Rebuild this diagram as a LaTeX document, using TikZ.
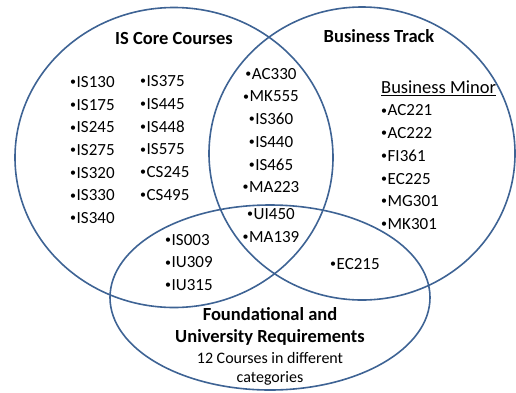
\documentclass[tikz,border=0pt]{standalone}
\usepackage{fontspec}
\setmainfont{Carlito}
\definecolor{vennline}{RGB}{62,99,148}
\newcommand{\bul}{{\fontsize{12}{12}\selectfont\raisebox{0.3ex}{•}}\kern0.5pt}
\tikzset{
  venn/.style={draw=vennline, line width=1.6pt},
  lst/.style={inner sep=0pt, font=\fontsize{17}{22.7}\selectfont},
  head/.style={inner sep=0pt, font=\fontsize{18.5}{22}\selectfont\bfseries}
}
\begin{document}
\begin{tikzpicture}[x=1pt,y=-1pt]
\useasboundingbox (0,0) rectangle (516,392);
% ellipses
\draw[venn] (174,157.5) ellipse [x radius=159, y radius=150];
\draw[venn] (362,153.5) ellipse [x radius=153, y radius=146.5];
\draw[venn] (270,297.5) ellipse [x radius=160, y radius=92.5];
% headings
\node[head] (core) at (174,38) {IS Core Courses};
\node[head] (bus) at (379,36) {Business Track};
% lists
\node[lst, anchor=west, align=left] (c1) at (70,150) {\bul IS130\\\bul IS175\\\bul IS245\\\bul IS275\\\bul IS320\\\bul IS330\\\bul IS340};
\node[lst, anchor=west, align=left] (c2) at (140,138) {\bul IS375\\\bul IS445\\\bul IS448\\\bul IS575\\\bul CS245\\\bul CS495};
\node[lst, align=center] (mid) at (271,130.5) {\bul AC330\\\bul MK555\\\bul IS360\\\bul IS440\\\bul IS465\\\bul MA223};
\node[lst, align=center] (mid2) at (271,225.5) {\bul UI450\\\bul MA139};
\node[lst, anchor=west, align=left] (minor) at (381,155) {{\fontsize{18.5}{22.7}\selectfont\underline{Business Minor}}\\\bul AC221\\\bul AC222\\\bul FI361\\\bul EC225\\\bul MG301\\\bul MK301};
\node[lst, anchor=west, align=left] (fnd) at (165,262.5) {\bul IS003\\\bul IU309\\\bul IU315};
\node[lst, anchor=west] (ec) at (330,264) {\bul EC215};
\node[head, align=center] (fhead) at (270,326.5) {Foundational and\\University Requirements};
\node[inner sep=0pt, align=center, font=\fontsize{16}{19.5}\selectfont] (fsub) at (270,369) {12 Courses in different\\categories};
\end{tikzpicture}
\end{document}
